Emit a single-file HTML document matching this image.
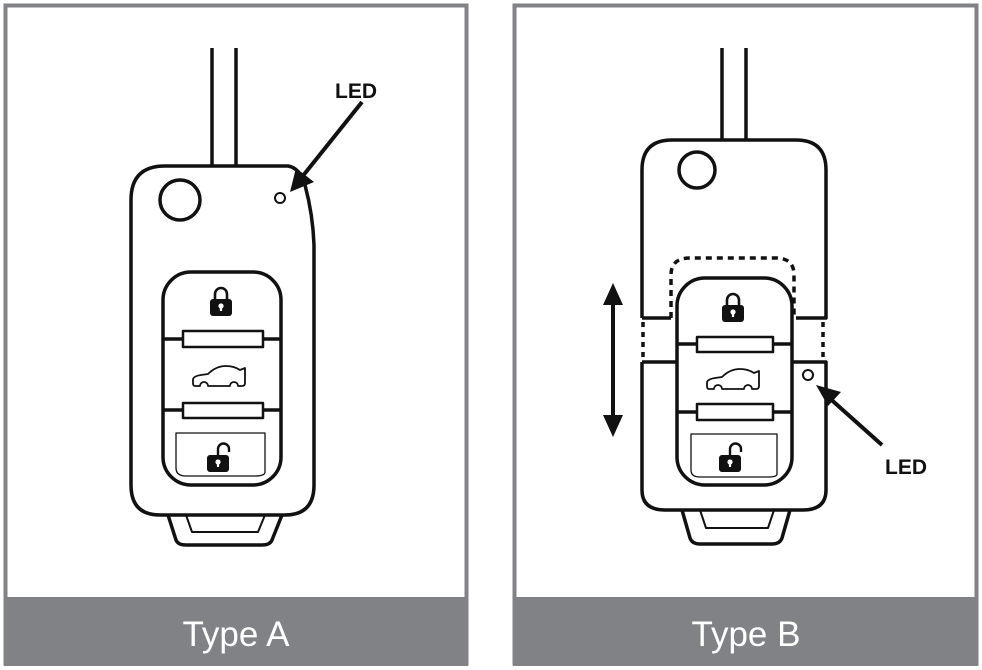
<!DOCTYPE html>
<html><head><style>
body{margin:0;background:#fff;}
svg{display:block;}
text{font-family:"Liberation Sans",sans-serif;}
</style></head><body>
<svg width="982" height="670" viewBox="0 0 982 670" xmlns="http://www.w3.org/2000/svg">
<defs>
<g id="lock">
<path d="M-6,-3 V-8 A6,6 0 0 1 6,-8 V-3" fill="none" stroke="#111" stroke-width="2.6"/>
<rect x="-11" y="-3" width="22" height="17" rx="3" fill="#111"/>
<circle cx="0" cy="4" r="2.6" fill="#fff"/><rect x="-1.1" y="4" width="2.2" height="5" fill="#fff"/>
</g>
<g id="unlock">
<path d="M0,-3 V-9 A5.5,5.5 0 0 1 11,-9 V-6" fill="none" stroke="#111" stroke-width="2.4"/>
<rect x="-11" y="-3" width="22" height="17" rx="3" fill="#111"/>
<circle cx="0" cy="4" r="2.6" fill="#fff"/><rect x="-1.1" y="4" width="2.2" height="5" fill="#fff"/>
</g>
<g id="car">
<path d="M-26,8 Q-28,8 -28,5 L-28,1 Q-27,-2 -20,-3 L-13,-4 Q-5,-12 5,-12 Q13,-12 19,-8 L24,-10 L24,5 Q24,8 21,8 L17,8 A4,4 0 0 0 9,8 L-13,8 A4,4 0 0 0 -21,8 Z" fill="none" stroke="#111" stroke-width="1.8" stroke-linejoin="round"/>
</g>
</defs>
<rect x="5.5" y="5.5" width="461" height="658" fill="#fff" stroke="#808285" stroke-width="4"/>
<rect x="514.5" y="5.5" width="462" height="658" fill="#fff" stroke="#808285" stroke-width="4"/>
<rect x="4" y="597" width="464" height="69" fill="#808285"/>
<rect x="513" y="597" width="465" height="69" fill="#808285"/>
<text x="236" y="646" font-size="35" fill="#fff" text-anchor="middle">Type A</text>
<text x="746" y="646" font-size="35" fill="#fff" text-anchor="middle">Type B</text>

<g fill="none" stroke="#111" stroke-width="3.5" stroke-linejoin="round">
<line x1="212" y1="48" x2="212" y2="166"/><line x1="236" y1="48" x2="236" y2="166"/>
<path d="M168,515 L176,540 Q178,545 186,545 L262,545 Q270,545 272,540 L282,515"/>
<path d="M186,515 L192,532 L258,532 L265,515" stroke-width="2"/>
<path d="M165,166 L288,166 Q300,168 305,185 Q313,215 314,245 L314,485 Q314,515 285,515 L160,515 Q131,515 131,485 L131,200 Q131,166 165,166 Z"/>
<circle cx="180" cy="200" r="20"/>
<circle cx="280" cy="198" r="5" stroke-width="2"/>
<rect x="163" y="272" width="118" height="213" rx="28"/>
<rect x="183" y="331" width="80" height="16" stroke-width="2.5"/>
<rect x="183" y="403" width="80" height="15" stroke-width="2.5"/>
<line x1="163" y1="339" x2="183" y2="339"/><line x1="263" y1="339" x2="281" y2="339"/>
<line x1="163" y1="410" x2="183" y2="410"/><line x1="263" y1="410" x2="281" y2="410"/>
<path d="M176,433 L265,433 L265,472 Q265,476 255,476 L186,476 Q176,476 176,468 Z" stroke-width="1.3"/>
<line x1="362" y1="102" x2="302" y2="177" stroke-width="4"/>

<line x1="722" y1="48" x2="722" y2="140"/><line x1="746" y1="48" x2="746" y2="140"/>
<path d="M682,510 L690,538 Q692,544 700,544 L772,544 Q780,544 782,538 L790,510"/>
<path d="M700,510 L706,528 L768,528 L774,510" stroke-width="2"/>
<path d="M642,318 L642,170 Q642,140 672,140 L796,140 Q826,140 826,170 L826,318 L796,318"/>
<line x1="642" y1="318" x2="671" y2="318"/>
<path d="M642,362 L642,490 Q642,510 665,510 L803,510 Q826,510 826,490 L826,362 L793,362"/>
<line x1="642" y1="362" x2="677" y2="362"/>
<circle cx="697" cy="170" r="18"/>
<path d="M671,318 L671,275 Q671,258 690,258 L776,258 Q794,258 794,275 L794,318" stroke-dasharray="6,5"/>
<line x1="643" y1="322" x2="643" y2="360" stroke-dasharray="5,5"/>
<line x1="823" y1="322" x2="823" y2="360" stroke-dasharray="5,5"/>
<rect x="677" y="278" width="115" height="207" rx="28"/>
<rect x="697" y="337" width="76" height="15" stroke-width="2.5"/>
<rect x="697" y="404" width="76" height="16" stroke-width="2.5"/>
<line x1="677" y1="344" x2="697" y2="344"/><line x1="773" y1="344" x2="792" y2="344"/>
<line x1="677" y1="412" x2="697" y2="412"/><line x1="773" y1="412" x2="792" y2="412"/>
<path d="M691,434 L777,434 L777,474 Q777,477 768,477 L700,477 Q691,477 691,470 Z" stroke-width="1.3"/>
<circle cx="808" cy="375" r="5" stroke-width="2"/>
<line x1="882" y1="445" x2="826" y2="395" stroke-width="4"/>
<line x1="613" y1="300" x2="613" y2="420" stroke-width="4"/>
</g>
<polygon points="290,192 296,168 314,182" fill="#111"/>
<polygon points="816,385 841,392 828,406" fill="#111"/>
<polygon points="613,283 603,305 623,305" fill="#111"/>
<polygon points="613,437 603,415 623,415" fill="#111"/>
<text x="356" y="98" font-size="21" font-weight="bold" text-anchor="middle" fill="#111">LED</text>
<text x="906" y="474" font-size="21" font-weight="bold" text-anchor="middle" fill="#111">LED</text>
<use href="#lock" x="221" y="302"/>
<use href="#car" x="221" y="378"/>
<use href="#unlock" x="218" y="458"/>
<use href="#lock" x="733" y="308"/>
<use href="#car" x="735" y="381"/>
<use href="#unlock" x="730" y="458"/>
</svg>
</body></html>
